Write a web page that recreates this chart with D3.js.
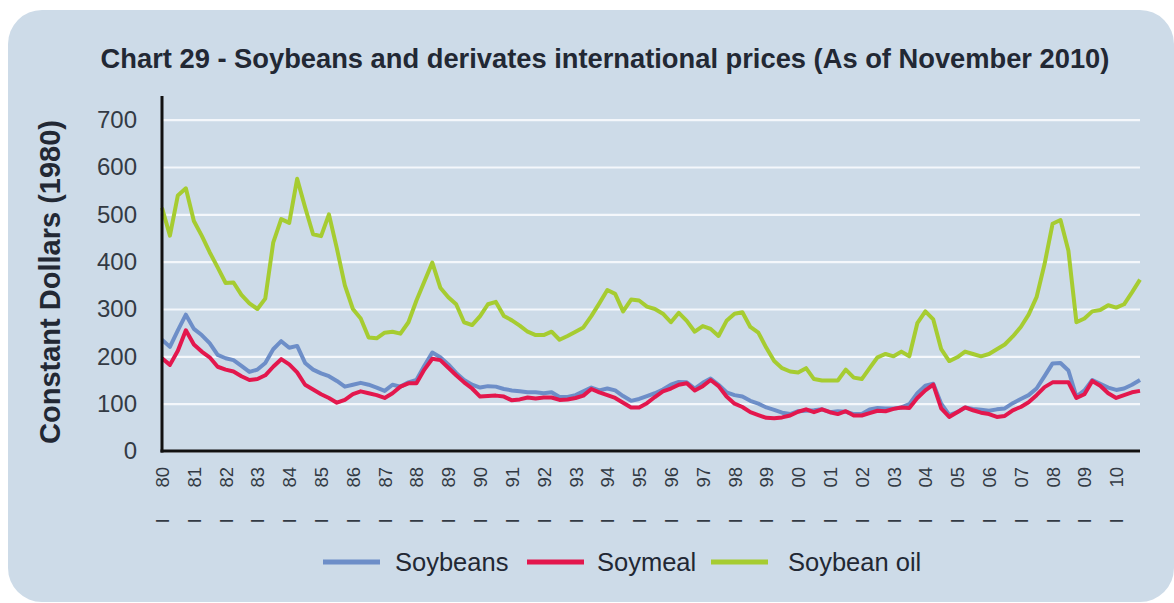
<!DOCTYPE html>
<html>
<head>
<meta charset="utf-8">
<script src="https://cdn.jsdelivr.net/npm/d3@7"></script>
<style>
  body { margin: 0; background: #fff; }
  svg { display: block; font-family: "Liberation Sans", Arial, sans-serif; }
</style>
</head>
<body>
<svg id="chart" width="1174" height="603"></svg>
<script>
// quarterly readings, Jan 1980 .. Oct 2010 (124 points each)
var soybeans = [
  235, 220, 255, 288, 258, 245, 228, 203, 196, 192, 180, 167, 172, 186, 215, 232, 218, 222, 186, 172, 164, 158, 148, 136, 140,
  144, 140, 134, 127, 140, 136, 145, 150, 180, 208, 198, 183, 165, 150, 140, 134, 137, 136, 131, 128, 126, 124, 124, 122,
  124, 114, 114, 118, 126, 134, 128, 132, 128, 116, 106, 110, 116, 122, 130, 140, 146, 145, 132, 144, 153, 140, 124, 118,
  115, 106, 100, 92, 87, 81, 78, 84, 85, 86, 88, 82, 84, 83, 78, 78, 88, 91, 90, 90, 92, 99, 122, 138,
  142, 100, 76, 82, 92, 89, 87, 85, 88, 90, 101, 110, 118, 132, 158, 185, 186, 170, 115, 128, 150, 142, 134, 129, 132, 140, 150
];
var soymeal = [
  196, 182, 212, 255, 225, 210, 198, 178, 172, 168, 158, 150, 152, 160, 178, 194, 183, 166, 140, 130, 120, 112, 102, 108, 120,
  126, 122, 118, 112, 122, 136, 143, 143, 172, 195, 192, 176, 160, 145, 132, 115, 116, 117, 115, 107, 109, 113, 111, 113,
  113, 108, 109, 112, 117, 131, 124, 118, 112, 102, 92, 92, 101, 114, 126, 132, 140, 143, 128, 137, 150, 137, 115, 100,
  93, 82, 76, 70, 69, 71, 75, 83, 88, 82, 88, 82, 78, 84, 75, 75, 80, 85, 84, 89, 92, 91, 112, 128,
  140, 90, 72, 82, 92, 86, 81, 78, 72, 74, 86, 93, 103, 118, 135, 145, 145, 145, 112, 120, 148, 138, 122, 112, 118, 124, 127
];
var soybeanOil = [
  514, 455, 540, 555, 486, 455, 420, 388, 355, 356, 330, 312, 300, 322, 440, 490, 482, 575, 515, 458, 454, 500, 428, 350, 300,
  280, 240, 238, 250, 252, 248, 272, 318, 358, 398, 345, 325, 310, 272, 266, 285, 310, 315, 285, 276, 265, 252, 245, 245,
  252, 235, 243, 252, 261, 285, 312, 340, 332, 295, 320, 318, 305, 300, 290, 272, 292, 275, 252, 264, 258, 243, 275, 290,
  293, 262, 250, 218, 190, 175, 168, 166, 175, 152, 149, 149, 149, 172, 155, 152, 175, 198, 205, 200, 210, 200, 270, 295,
  278, 215, 190, 198, 210, 205, 200, 205, 215, 225, 242, 262, 288, 325, 395, 480, 488, 423, 272, 280, 295, 298, 308, 303, 310, 335, 362
];
var seriesNames = ["Soybeans", "Soymeal", "Soybean oil"];
var yTicks = [0, 100, 200, 300, 400, 500, 600, 700];
var yearLabels = ["80","81","82","83","84","85","86","87","88","89","90","91","92","93","94","95",
  "96","97","98","99","00","01","02","03","04","05","06","07","08","09","10"];

var colors = ["#6d8ec8", "#e3174d", "#a6cc31"];
var svg = d3.select("#chart");

var plotLeft = 162, plotRight = 1140, plotTop = 96, plotBottom = 451;

var dates = d3.timeMonth.every(3).range(new Date(1980, 0, 1), new Date(2010, 10, 1));
var years = d3.timeYear.range(new Date(1980, 0, 1), new Date(2011, 0, 1));

var x = d3.scaleTime()
    .domain([new Date(1980, 0, 1), new Date(2010, 9, 1)])
    .range([plotLeft, plotRight]);

var y = d3.scaleLinear()
    .domain([0, 750])
    .range([plotBottom, plotTop]);

// panel
svg.append("rect")
    .attr("x", 8).attr("y", 10)
    .attr("width", 1166).attr("height", 592)
    .attr("rx", 34)
    .attr("fill", "#cddbe8");

svg.append("text")
    .attr("x", 605).attr("y", 68)
    .attr("text-anchor", "middle")
    .style("font-size", "27.3px").style("font-weight", "bold")
    .attr("fill", "#222834")
    .text("Chart 29 - Soybeans and derivates international prices (As of November 2010)");

// gridlines + y labels
var yAxis = svg.append("g")
    .attr("transform", "translate(" + plotLeft + ",0)")
    .call(d3.axisLeft(y).tickValues(yTicks).tickSize(-(plotRight - plotLeft)).tickPadding(25));
yAxis.select(".domain").remove();
yAxis.selectAll(".tick line")
    .attr("stroke", "#f4f7fb").attr("stroke-width", 2.2);
yAxis.selectAll(".tick text")
    .style("font-size", "24px")
    .style("font-family", "Liberation Sans, Arial, sans-serif")
    .attr("fill", "#333a44");

svg.append("text")
    .attr("transform", "translate(60,282) rotate(-90)")
    .attr("text-anchor", "middle")
    .style("font-size", "29px").style("font-weight", "bold")
    .attr("fill", "#222834")
    .text("Constant Dollars (1980)");

// x labels
var xAxis = svg.append("g")
    .attr("transform", "translate(0," + plotBottom + ")")
    .call(d3.axisBottom(x).tickValues(years).tickSize(0)
      .tickFormat(function(d, i) { return "I\u00a0\u00a0\u00a0\u00a0\u00a0\u00a0" + yearLabels[i]; }));
xAxis.select(".domain").remove();
xAxis.selectAll(".tick text")
    .attr("transform", "rotate(-90)")
    .attr("x", -16).attr("y", 0).attr("dy", "0.35em")
    .attr("text-anchor", "end")
    .style("font-size", "18.5px")
    .style("font-family", "Liberation Sans, Arial, sans-serif")
    .attr("fill", "#333a44");

// lines
var line = d3.line()
    .x(function(d, i) { return x(dates[i]); })
    .y(function(d) { return y(d); });

var allSeries = [soybeanOil, soybeans, soymeal];
var allColors = [colors[2], colors[0], colors[1]];
svg.append("g").selectAll("path")
  .data(allSeries)
  .join("path")
    .attr("d", line)
    .attr("fill", "none")
    .attr("stroke", function(d, i) { return allColors[i]; })
    .attr("stroke-width", 4)
    .attr("stroke-linejoin", "round");

// axis lines
svg.append("line")
    .attr("x1", plotLeft).attr("x2", plotLeft)
    .attr("y1", plotTop).attr("y2", plotBottom + 1.5)
    .attr("stroke", "#111").attr("stroke-width", 3);
svg.append("line")
    .attr("x1", plotLeft - 1.5).attr("x2", plotRight)
    .attr("y1", plotBottom).attr("y2", plotBottom)
    .attr("stroke", "#111").attr("stroke-width", 3);

// legend
var swatchX = [323, 527, 711];
var labelX = [395, 597, 788];
var legend = svg.append("g").selectAll("g")
  .data(seriesNames)
  .join("g");
legend.append("line")
    .attr("x1", function(d, i) { return swatchX[i]; })
    .attr("x2", function(d, i) { return swatchX[i] + 57; })
    .attr("y1", 562).attr("y2", 562)
    .attr("stroke", function(d, i) { return colors[i]; })
    .attr("stroke-width", 5);
legend.append("text")
    .attr("x", function(d, i) { return labelX[i]; })
    .attr("y", 562)
    .attr("dy", "0.35em")
    .style("font-size", "25.5px")
    .attr("fill", "#222834")
    .text(function(d) { return d; });
</script>
</body>
</html>
